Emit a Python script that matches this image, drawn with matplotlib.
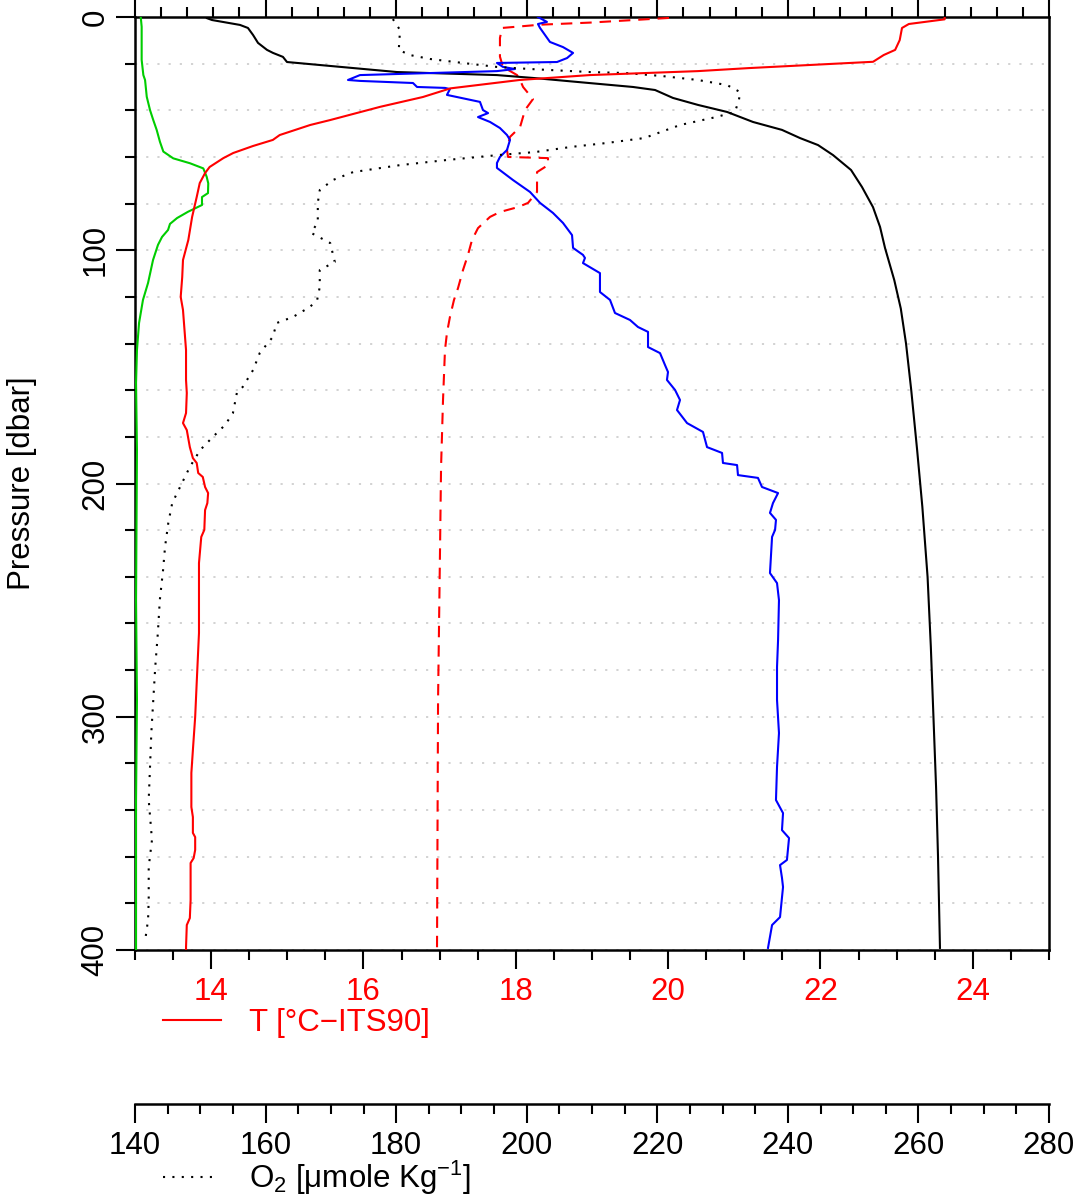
import matplotlib
matplotlib.use('Agg')
import matplotlib.pyplot as plt
from matplotlib.ticker import MultipleLocator

plt.rcParams['font.family'] = ['Liberation Sans', 'DejaVu Sans']
plt.rcParams['mathtext.fontset'] = 'custom'
plt.rcParams['mathtext.rm'] = 'Liberation Sans'
plt.rcParams['mathtext.it'] = 'Liberation Sans:italic'
plt.rcParams['mathtext.default'] = 'regular'

# ---------------- data (pressure [dbar], value) ----------------
# Temperature [degC ITS-90], bottom red axis
temperature = [(0, 23.63), (1, 23.63), (3, 23.16), (4.7, 23.07), (9.9, 23.04), (14.1, 22.98),
               (16.3, 22.83), (19.2, 22.69), (21.9, 21.06), (23.2, 20.39), (24.9, 18.97),
               (27.0, 18.05), (30.6, 17.14), (34.3, 16.78), (38.5, 16.22), (44.2, 15.56),
               (46.3, 15.30), (50.6, 14.90), (52.7, 14.81), (55.3, 14.55), (58.3, 14.29),
               (60.5, 14.16), (64.3, 13.98), (66.9, 13.92), (71.2, 13.85), (77.2, 13.81),
               (85.7, 13.75), (95.6, 13.70), (104.2, 13.63), (111.5, 13.62), (120, 13.60),
               (125.6, 13.63), (142.8, 13.67), (155.6, 13.67), (161.2, 13.68), (169.8, 13.67),
               (174.1, 13.63), (177.1, 13.68), (184.4, 13.72), (189.1, 13.76), (191.2, 13.81),
               (195.5, 13.83), (197.2, 13.89), (201.5, 13.92), (204.1, 13.96), (208.4, 13.95),
               (211.4, 13.92), (219.9, 13.91), (222.9, 13.87), (234.1, 13.84), (248.7, 13.84),
               (264.1, 13.84), (285.5, 13.81), (300.1, 13.79), (314.3, 13.76), (324.1, 13.74),
               (338.7, 13.74), (343, 13.76), (349.8, 13.76), (351.6, 13.79), (357.1, 13.79),
               (360.6, 13.77), (362.7, 13.73), (378.6, 13.73), (386.3, 13.72), (389.3, 13.68),
               (398.7, 13.67), (400, 13.67)]

# Oxygen [umol/kg], lower black axis
oxygen = [(0.9, 179.5), (5.6, 180.6), (14.1, 180.4), (16.3, 182.1), (18.0, 185.2), (19.7, 190.2),
          (21.4, 195.4), (22.3, 200.5), (23.6, 209.7), (24.0, 215.0), (25.3, 220.7), (27.0, 226.2),
          (29.2, 230.7), (32.2, 232.7), (35.6, 232.5), (40.7, 231.9), (42.9, 229.0), (46.3, 223.5),
          (51.9, 218.0), (54.0, 212.3), (55.7, 206.8), (57.9, 201.3), (59.2, 195.6), (61.3, 187.8),
          (63.5, 180.6), (66.5, 173.4), (69.9, 170.3), (74.2, 168.3), (79.7, 168.0), (87.9, 168.0),
          (92.6, 167.0), (96.9, 169.9), (105.0, 170.6), (108.5, 168.3), (115.8, 168.3),
          (121.3, 167.9), (124.3, 166.8), (128.6, 164.2), (131.2, 161.7), (137.2, 161.1),
          (144.1, 159.1), (151.3, 158.1), (158.6, 156.5), (161.2, 155.6), (169.8, 155.0),
          (174.9, 153.8), (180.1, 151.9), (185.6, 150.0), (192.9, 148.4), (201.5, 146.9),
          (208.4, 145.7), (216.9, 145.1), (227.2, 144.6), (237.1, 144.3), (250, 143.8),
          (264.1, 143.5), (278.7, 143.1), (292.8, 142.8), (307.0, 142.5), (321.5, 142.3),
          (335.7, 142.1), (352.8, 142.6), (364.4, 142.1), (378.6, 142.1), (387.1, 142.0),
          (397, 141.5)]

# Series on the top axis (its labels are cropped off; values in top-axis units 0..7)
black_top = [(0.5, 0.551), (1.3, 0.590), (3.4, 0.804), (4.7, 0.865), (7.7, 0.904), (11.1, 0.942),
             (14.1, 1.011), (15.4, 1.057), (17.1, 1.133), (19.3, 1.164), (23.6, 2.007),
             (24.9, 2.772), (26.2, 3.064), (28.3, 3.477), (30.0, 3.814), (31.3, 3.983),
             (34.7, 4.120), (37.7, 4.312), (40.7, 4.534), (45.0, 4.733), (48.4, 4.955),
             (51.9, 5.093), (54.9, 5.231), (59.2, 5.346), (65.6, 5.484), (72.9, 5.568),
             (81.5, 5.652), (90.0, 5.706), (99.0, 5.744), (112.8, 5.815), (125.0, 5.865),
             (140.0, 5.905), (160.0, 5.945), (185.6, 5.990), (210.0, 6.030), (240.0, 6.070),
             (270.0, 6.095), (300.0, 6.115), (330.0, 6.135), (360.0, 6.150), (399.1, 6.165)]

blue_top = [(0, 3.086), (2.1, 3.155), (3.0, 3.086), (4.7, 3.102), (10.7, 3.178), (12.9, 3.278),
            (15.4, 3.355), (17.6, 3.309), (19.3, 3.232), (19.7, 2.772), (21.4, 2.818),
            (22.3, 2.910), (23.2, 2.772), (24.9, 1.723), (27.0, 1.631), (27.4, 1.723),
            (28.3, 2.129), (30.0, 2.160), (30.4, 2.374), (30.9, 2.412), (33.4, 2.389),
            (36.4, 2.642), (39.9, 2.665), (41.2, 2.704), (42.9, 2.627), (45.0, 2.719),
            (47.6, 2.795), (50.6, 2.849), (52.7, 2.872), (57.0, 2.849), (60.0, 2.795),
            (62.6, 2.772), (64.7, 2.772), (69.9, 2.895), (75.0, 3.025), (79.7, 3.102),
            (84.0, 3.201), (88.3, 3.278), (93.5, 3.347), (99.0, 3.355), (102.0, 3.431),
            (103.3, 3.446), (105.5, 3.431), (109.8, 3.561), (117.9, 3.561), (121.3, 3.638),
            (126.9, 3.676), (129.9, 3.791), (132.9, 3.852), (135.0, 3.929), (141.5, 3.929),
            (144.1, 4.021), (149.2, 4.059), (152.2, 4.082), (155.6, 4.074), (159.9, 4.136),
            (164.2, 4.174), (168.5, 4.151), (174.1, 4.228), (177.9, 4.350), (184.4, 4.381),
            (186.9, 4.496), (191.2, 4.503), (192.1, 4.611), (196.4, 4.618), (197.6, 4.771),
            (201.5, 4.802), (204.1, 4.925), (208.4, 4.886), (212.6, 4.863), (215.6, 4.909),
            (219.9, 4.902), (222.9, 4.879), (238.4, 4.863), (242.7, 4.917), (250.0, 4.932),
            (267.1, 4.925), (278.7, 4.917), (292.8, 4.917), (307.0, 4.932), (321.5, 4.917),
            (335.7, 4.909), (341.3, 4.963), (348.6, 4.955), (352.0, 5.009), (361.4, 4.993),
            (363.6, 4.940), (369.1, 4.955), (373.0, 4.963), (385.9, 4.940), (389.3, 4.879),
            (399.1, 4.848)]

reddash_top = [(0.4, 4.090), (2.4, 3.485), (3.3, 3.102), (4.7, 2.811), (9.0, 2.795),
               (17.0, 2.795), (21.4, 2.818), (24.9, 2.926), (27.0, 2.949), (30.0, 2.972),
               (35.2, 3.048), (39.9, 2.987), (47.2, 2.949), (51.4, 2.872), (57.0, 2.849),
               (60.0, 2.857), (60.5, 3.163), (63.5, 3.163), (66.5, 3.079), (75.0, 3.079),
               (79.7, 3.010), (81.5, 2.933), (83.6, 2.795), (85.7, 2.719), (90.5, 2.627),
               (95.6, 2.581), (102.0, 2.550), (108.5, 2.512), (116.2, 2.474), (121.3, 2.443),
               (128.6, 2.412), (135.5, 2.389), (142.8, 2.374), (164.2, 2.359), (192.9, 2.344),
               (228.5, 2.336), (292.8, 2.321), (400, 2.313)]

green_top = [(0, 0.044), (4.2, 0.051), (18.4, 0.051), (24.9, 0.064), (27.0, 0.077), (34.2, 0.090),
             (39.9, 0.115), (44.2, 0.140), (48.4, 0.166), (53.5, 0.191), (57.7, 0.217),
             (60.6, 0.293), (62.7, 0.421), (64.9, 0.523), (68.5, 0.549), (71.3, 0.561),
             (75.5, 0.559), (77.2, 0.513), (80.6, 0.513), (83.5, 0.406), (86.2, 0.322),
             (88.7, 0.268), (91.3, 0.253), (94.3, 0.207), (97.7, 0.176), (104.2, 0.138),
             (114.0, 0.100), (121.3, 0.061), (131.2, 0.031), (142.8, 0.015), (156.9, 0.008),
             (185.6, 0.015), (250, 0.008), (292.8, 0.015), (335.7, 0.008), (400, 0.008)]

T_ticks = [14, 16, 18, 20, 22, 24]
O2_ticks = [140, 160, 180, 200, 220, 240, 260, 280]
P_ticks = [0, 100, 200, 300, 400]

T_label = 'T [°C\u2212ITS90]'
O2_label = r'O$_2$ [μmole Kg$^{-1}$]'
P_label = 'Pressure [dbar]'


def unzip(pairs):
    p = [a for a, b in pairs]
    v = [b for a, b in pairs]
    return p, v


FS = 22.5
PT = 72 / 100.0  # points per pixel at dpi 100

fig = plt.figure(figsize=(10.92, 11.99), dpi=100)
ax = fig.add_axes([135 / 1092, 1 - 950 / 1199, 914 / 1092, 933 / 1199])

# main axis: temperature (bottom) + pressure (left)
ax.set_xlim(13, 25)
ax.set_ylim(400, 0)
ax.set_xticks(T_ticks)
ax.xaxis.set_minor_locator(MultipleLocator(0.5))
ax.set_yticks(P_ticks)
ax.yaxis.set_minor_locator(MultipleLocator(20))
ax.tick_params(axis='both', which='major', length=19 * PT, width=1.5, labelsize=FS)
ax.tick_params(axis='both', which='minor', length=10 * PT, width=1.5)
ax.tick_params(axis='x', which='major', labelcolor='red', pad=6.0)
ax.tick_params(axis='y', which='major', labelrotation=90, pad=4.0)
plt.setp(ax.yaxis.get_majorticklabels(), va='center')
for s in ax.spines.values():
    s.set_linewidth(1.8)
ax.grid(axis='y', which='both', color='#cfcfcf', linestyle=(0, (1.2, 5)), linewidth=1.3)
ax.set_axisbelow(True)
ax.set_ylabel(P_label, fontsize=FS)
ax.yaxis.set_label_coords(-0.107, 0.5)

# top axis (labels are outside the visible area)
ax_top = ax.twiny()
ax_top.set_xlim(0, 7)
ax_top.xaxis.set_major_locator(MultipleLocator(1))
ax_top.xaxis.set_minor_locator(MultipleLocator(0.2))
ax_top.tick_params(axis='x', which='major', length=19 * PT, width=1.5, labeltop=False)
ax_top.tick_params(axis='x', which='minor', length=10 * PT, width=1.5)
for s in ax_top.spines.values():
    s.set_visible(False)

# oxygen axis, offset below
ax_o2 = ax.twiny()
ax_o2.set_xlim(140, 280)
ax_o2.xaxis.set_ticks_position('bottom')
ax_o2.xaxis.set_label_position('bottom')
ax_o2.set_xticks(O2_ticks)
ax_o2.xaxis.set_minor_locator(MultipleLocator(5))
ax_o2.tick_params(axis='x', which='major', length=19 * PT, width=1.5, labelsize=FS, pad=6.0)
ax_o2.tick_params(axis='x', which='minor', length=10 * PT, width=1.5)
for k, s in ax_o2.spines.items():
    s.set_visible(k == 'bottom')
ax_o2.spines['bottom'].set_position(('outward', 154 * PT))
ax_o2.spines['bottom'].set_linewidth(1.8)

LW = 1.5
p, v = unzip(green_top)
ax_top.plot(v, p, color='#00cd00', lw=LW)
p, v = unzip(reddash_top)
ax_top.plot(v, p, color='red', lw=LW, ls=(0, (5.5, 3.8)))
p, v = unzip(black_top)
ax_top.plot(v, p, color='black', lw=LW)
p, v = unzip(blue_top)
ax_top.plot(v, p, color='blue', lw=LW)
p, v = unzip(oxygen)
o_line, = ax_o2.plot(v, p, color='black', lw=LW, ls=(0, (1, 3.5)))
# temperature drawn on a hidden twin so it stays above the other profiles
ax_t2 = ax.twiny()
ax_t2.set_xlim(13, 25)
ax_t2.axis('off')
p, v = unzip(temperature)
t_line, = ax_t2.plot(v, p, color='red', lw=LW)

fig.legend(handles=[t_line], labels=[T_label], loc='center left',
           bbox_to_anchor=(163 / 1092, 1 - 1023 / 1199), frameon=False, fontsize=FS,
           handlelength=1.85, handletextpad=0.9, borderpad=0, borderaxespad=0,
           labelcolor='red')
fig.legend(handles=[o_line], labels=[O2_label], loc='center left',
           bbox_to_anchor=(163 / 1092, 1 - 1178 / 1199), frameon=False, fontsize=FS,
           handlelength=1.65, handletextpad=1.1, borderpad=0, borderaxespad=0)

fig.savefig('out.png', dpi=100)
